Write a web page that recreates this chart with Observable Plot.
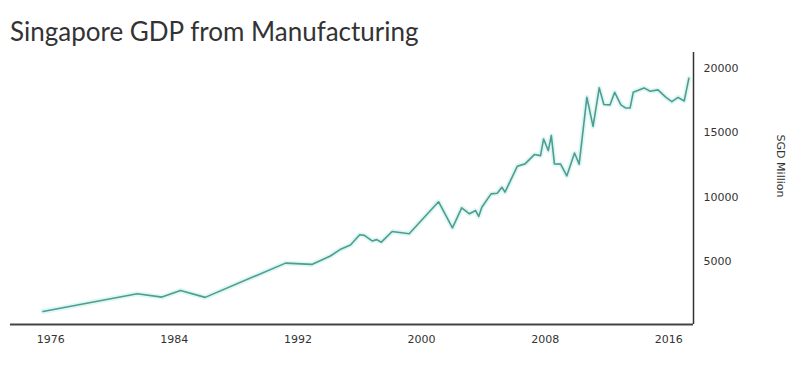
<!DOCTYPE html>
<html>
<head>
<meta charset="utf-8">
<script src="https://cdn.jsdelivr.net/npm/d3@7"></script>
<script src="https://cdn.jsdelivr.net/npm/@observablehq/plot@0.6"></script>
<style>
  html, body { margin: 0; padding: 0; background: #fff; }
  #title { height: 44px; box-sizing: border-box; padding: 18px 0 0 10px; font-family: Lato, "Noto Sans", sans-serif; font-size: 26px; line-height: 26px; color: #333; white-space: nowrap; overflow: visible; }
  #chart svg { display: block; }
</style>
</head>
<body>
<div id="title">Singapore GDP from Manufacturing</div>
<div id="chart"></div>
<script>
const years = [1975.5, 1981.6, 1983.2, 1984.4, 1986.0, 1991.2, 1992.9, 1994.1, 1994.8, 1995.4,
  1996.0, 1996.3, 1996.8, 1997.1, 1997.4, 1998.1, 1999.2, 2001.1, 2002.0, 2002.6,
  2003.1, 2003.5, 2003.7, 2003.9, 2004.5, 2004.9, 2005.2, 2005.4, 2006.2, 2006.7,
  2007.3, 2007.7, 2007.9, 2008.2, 2008.4, 2008.6, 2009.0, 2009.4, 2009.9, 2010.2,
  2010.7, 2011.1, 2011.5, 2011.8, 2012.2, 2012.5, 2012.9, 2013.2, 2013.5, 2013.7,
  2014.4, 2014.8, 2015.3, 2015.8, 2016.2, 2016.6, 2017.0, 2017.3];
const values = [1160, 2530, 2270, 2780, 2250, 4900, 4800, 5450, 6000, 6300,
  7100, 7050, 6620, 6720, 6520, 7350, 7170, 9650, 7630, 9180,
  8720, 8970, 8510, 9230, 10260, 10310, 10770, 10390, 12400, 12580,
  13300, 13220, 14510, 13610, 14770, 12580, 12560, 11650, 13420, 12560,
  17730, 15480, 18460, 17180, 17150, 18120, 17150, 16910, 16910, 18120,
  18460, 18200, 18310, 17750, 17400, 17730, 17450, 19200];
const xTicks = [1976, 1984, 1992, 2000, 2008, 2016];
const yTicks = [5000, 10000, 15000, 20000];
const yLabel = "SGD Million";
const xDomain = [1973.4, 2017.6];
const yDomain = [150, 21200];

const data = years.map((y, i) => ({year: y, value: values[i]}));

const chart = Plot.plot({
  width: 800,
  height: 328,
  marginTop: 8,
  marginBottom: 48,
  marginLeft: 10,
  marginRight: 107,
  style: {fontFamily: "'DejaVu Sans', sans-serif", fontSize: "11px", color: "#333", background: "#fff"},
  x: {domain: xDomain, ticks: xTicks, tickFormat: d => String(d), tickSize: 0, tickPadding: 11, label: null},
  y: {domain: yDomain, ticks: yTicks, tickFormat: d => String(d), tickSize: 0, tickPadding: 10, axis: "right", label: null},
  marks: [
    Plot.line(data, {x: "year", y: "value", stroke: "#8fe3d6", strokeWidth: 5, strokeOpacity: 0.3, curve: "linear"}),
    Plot.line(data, {x: "year", y: "value", stroke: "#509c92", strokeWidth: 1.6, curve: "linear"}),
    Plot.ruleY([yDomain[0]], {stroke: "#444", strokeWidth: 2}),
    Plot.ruleX([xDomain[1]], {stroke: "#333", strokeWidth: 1.5}),
    Plot.text([yLabel], {frameAnchor: "right", dx: 87, dy: 9, rotate: 90, fontSize: 11, fill: "#333"})
  ]
});
document.getElementById("chart").appendChild(chart);
</script>
</body>
</html>
